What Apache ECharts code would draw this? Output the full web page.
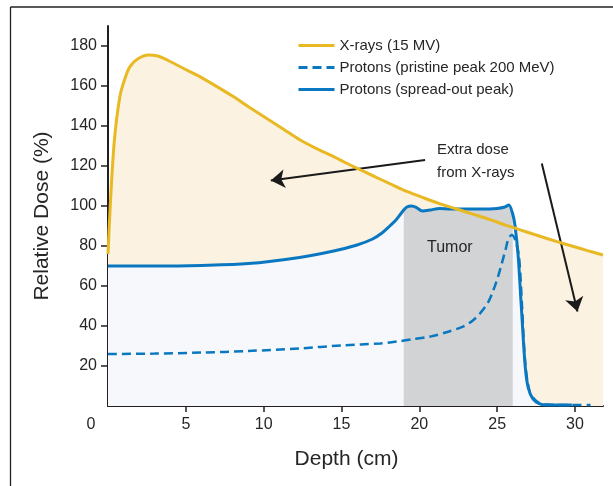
<!DOCTYPE html>
<html>
<head>
<meta charset="utf-8">
<script src="https://cdn.jsdelivr.net/npm/echarts@6/dist/echarts.min.js"></script>
<style>
html,body{margin:0;padding:0;background:#fff;}
#chart{width:613px;height:486px;}
</style>
</head>
<body>
<div id="chart"></div>
<script>
// ---- data ----
const depthXray = [0, 0.13, 0.4, 0.77, 1.1, 1.41, 1.9, 2.6, 3.2, 3.8, 4.8, 5.9, 7.0, 8.05, 9.1, 10.2, 11.3, 12.35, 13.4, 14.5, 15.3, 16.1, 17.1, 18.1, 19.2, 20.3, 21.3, 22.4, 23.5, 24.5, 25.6, 26.7, 27.7, 28.8, 29.8, 30.8, 31.8];
const doseXray  = [76, 98, 132, 155, 164, 169.7, 173.5, 175.5, 175, 173, 169, 164.7, 159.7, 154.7, 149.3, 143.8, 138.3, 133, 128.7, 124.7, 121.5, 118.5, 114.8, 111.2, 107.3, 104, 101.2, 98.5, 95.8, 93.3, 90.3, 87.5, 85, 82.3, 80, 77.7, 75.5];

const depthSobp = [0, 3, 6, 9, 12.3, 14.5, 16, 17, 17.6, 18.1, 18.5, 18.8, 19, 19.2, 19.5, 19.8, 20.2, 20.7, 21.3, 22, 23, 24, 25, 25.5, 25.75, 26, 26.15, 26.35, 26.55, 26.8, 27.0, 27.3, 27.7, 28.2, 29, 29.8];
const doseSobp  = [70, 70, 70.3, 71.2, 74.3, 77.5, 80.5, 83.5, 86.5, 90, 93, 96, 98, 99.5, 100, 99.3, 97.5, 98, 98.8, 98.5, 98.5, 98.5, 98.8, 99.5, 100.5, 96, 90, 75, 50, 20, 9, 3.5, 1.2, 0.5, 0.5, 0.5];

const depthPristine = [0, 3, 6, 9, 12.3, 15, 17.5, 18.55, 19.5, 20.7, 21.8, 22.8, 23.4, 23.9, 24.4, 24.76, 25.05, 25.3, 25.55, 25.73, 25.94, 26.16, 26.4, 26.6, 26.8, 27.1, 27.6, 28.3, 29.5, 31];
const dosePristine  = [26, 26.2, 26.7, 27.5, 28.8, 30.3, 31.3, 32.2, 33.3, 34.7, 37, 39.7, 42.5, 46.3, 51.5, 58, 64.5, 71.3, 78.5, 83.8, 85.5, 83, 75, 50, 22, 7, 2, 0.7, 0.5, 0.5];

const tumorRange = [19, 26];
const xTickValues = [0, 5, 10, 15, 20, 25, 30];
const yTickValues = [20, 40, 60, 80, 100, 120, 140, 160, 180];
const seriesNames = ['X-rays (15 MV)', 'Protons (pristine peak 200 MeV)', 'Protons (spread-out peak)'];
const arrowStarts = [[20.37, 123], [27.87, 121.3]];
const arrowEnds   = [[10.46, 112.7], [30.16, 47.2]];
const noteTexts = ['Extra dose\nfrom X-rays', 'Tumor'];
const notePoints = [[21.14, 122.5], [21.96, 79]];

// ---- build ----
const zip = (a, b) => a.map((v, i) => [v, b[i]]);
const xrayData = zip(depthXray, doseXray);
const sobpData = zip(depthSobp, doseSobp);
const pristineData = zip(depthPristine, dosePristine);
const tumorData = sobpData.filter(p => p[0] >= tumorRange[0] && p[0] <= tumorRange[1]);

const GOLD = '#e8b923', BLUE = '#0a78c0', TXT = '#262626', AX = '#231f20';
const FONT = '"Liberation Sans", Arial, Helvetica, sans-serif';

const chart = echarts.init(document.getElementById('chart'), null, {renderer: 'canvas'});
chart.setOption({
  animation: false,
  backgroundColor: '#ffffff',
  textStyle: {fontFamily: FONT},
  grid: {left: 108, right: 10, top: 26, bottom: 80, containLabel: false, outerBoundsMode: 'none'},
  legend: {
    data: seriesNames,
    orient: 'vertical',
    left: 297, top: 38, padding: 0,
    itemWidth: 36, itemHeight: 14, itemGap: 7,
    itemStyle: {opacity: 0},
    lineStyle: {width: 3},
    textStyle: {fontSize: 15, color: TXT, fontFamily: FONT},
    selectedMode: false
  },
  xAxis: {
    type: 'value', min: 0, max: 31.8, interval: 5,
    name: 'Depth (cm)', nameLocation: 'middle', nameGap: 43,
    nameTextStyle: {fontSize: 21, color: TXT, fontFamily: FONT, padding: [0, 18, 0, 0]},
    axisLine: {show: true, lineStyle: {color: AX, width: 2}},
    axisTick: {show: true, length: 6, lineStyle: {color: AX, width: 1.5}, customValues: xTickValues.filter(v => v > 0)},
    axisLabel: {
      show: true, margin: 11, fontSize: 16, color: TXT, fontFamily: FONT,
      customValues: xTickValues,
      formatter: v => v === 0 ? '{o|0}' : String(v),
      rich: {o: {fontSize: 16, color: TXT, fontFamily: FONT, padding: [0, 34, 0, 0]}}
    },
    splitLine: {show: false}
  },
  yAxis: {
    type: 'value', min: 0, max: 190, interval: 20,
    name: 'Relative Dose (%)', nameLocation: 'middle', nameGap: 55, nameRotate: 90,
    nameTextStyle: {fontSize: 21, color: TXT, fontFamily: FONT},
    axisLine: {show: true, lineStyle: {color: AX, width: 2}},
    axisTick: {show: true, length: 7, lineStyle: {color: AX, width: 1.5}, customValues: yTickValues},
    axisLabel: {show: true, margin: 11, fontSize: 16, color: TXT, fontFamily: FONT, customValues: yTickValues},
    splitLine: {show: false}
  },
  graphic: [
    {type: 'line', shape: {x1: 10.5, y1: 7, x2: 613, y2: 7}, style: {stroke: '#222', lineWidth: 1.3}, silent: true},
    {type: 'line', shape: {x1: 10.5, y1: 7, x2: 10.5, y2: 486}, style: {stroke: '#222', lineWidth: 1.3}, silent: true}
  ],
  series: [
    {name: 'xrayFill', type: 'line', data: xrayData, symbol: 'none', smooth: 0.3, z: 1, silent: true,
     lineStyle: {width: 0}, areaStyle: {color: '#fbf2e1', opacity: 1}},
    {name: 'sobpFill', type: 'line', data: sobpData, symbol: 'none', smooth: 0.3, z: 2, silent: true,
     lineStyle: {width: 0}, areaStyle: {color: '#f7f8fc', opacity: 1}},
    {name: 'tumorFill', type: 'line', data: tumorData, symbol: 'none', smooth: 0.3, z: 3, silent: true,
     lineStyle: {width: 0}, areaStyle: {color: '#d1d3d5', opacity: 1}},
    {name: seriesNames[1], type: 'line', data: pristineData, symbol: 'none', smooth: 0.3, z: 5,
     color: BLUE, lineStyle: {color: BLUE, width: 2.5, type: [9, 5]}},
    {name: seriesNames[2], type: 'line', data: sobpData, symbol: 'none', smooth: 0.3, z: 6,
     color: BLUE, lineStyle: {color: BLUE, width: 3}},
    {name: seriesNames[0], type: 'line', data: xrayData, symbol: 'none', smooth: 0.3, z: 7,
     color: GOLD, lineStyle: {color: GOLD, width: 3},
     markLine: {
       silent: true, symbol: ['none', 'arrow'], symbolSize: 14,
       lineStyle: {color: '#1a1a1a', width: 2, type: 'solid'},
       label: {show: false},
       emphasis: {disabled: true},
       data: arrowStarts.map((s, i) => [{coord: s}, {coord: arrowEnds[i]}])
     },
     markPoint: {
       silent: true, symbol: 'circle', symbolSize: 0,
       label: {show: true, position: [0, 0], formatter: p => p.name, fontSize: 15, color: TXT, fontFamily: FONT, lineHeight: 23, verticalAlign: 'middle'},
       data: [
         {name: noteTexts[0], coord: notePoints[0], label: {align: 'left'}},
         {name: noteTexts[1], coord: notePoints[1], label: {align: 'center', fontSize: 16}}
       ]
     }
    }
  ]
});
</script>
</body>
</html>
